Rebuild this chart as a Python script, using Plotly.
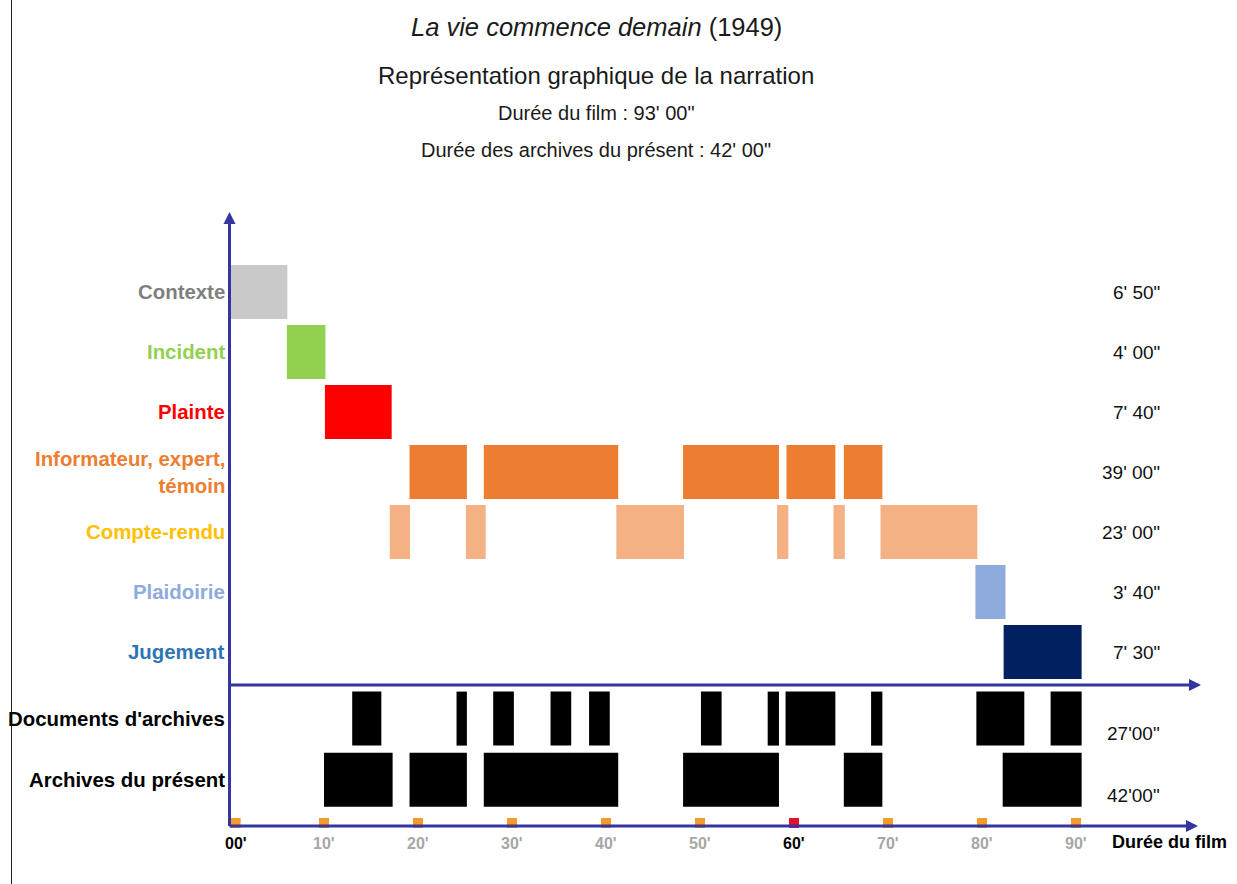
import plotly.graph_objects as go

W, H = 1237, 884

# ---------------- data (minutes of the film) ----------------
categories = ["Contexte", "Incident", "Plainte", "Informateur, expert,<br>témoin",
              "Compte-rendu", "Plaidoirie", "Jugement",
              "Documents d'archives", "Archives du présent"]
durations = ["6' 50\"", "4' 00\"", "7' 40\"", "39' 00\"", "23' 00\"",
             "3' 40\"", "7' 30\"", "27'00\"", "42'00\""]

contexte_start = [0.0]
contexte_end = [6.1]
incident_start = [6.05]
incident_end = [10.15]
plainte_start = [10.1]
plainte_end = [17.2]
informateur_start = [19.1, 27.0, 48.2, 59.2, 65.3]
informateur_end = [25.2, 41.3, 58.4, 64.4, 69.4]
compte_rendu_start = [17.0, 25.1, 41.1, 58.2, 64.2, 69.2]
compte_rendu_end = [19.15, 27.2, 48.3, 59.4, 65.4, 79.5]
plaidoirie_start = [79.3]
plaidoirie_end = [82.5]
jugement_start = [82.3]
jugement_end = [90.6]
documents_start = [13.0, 24.1, 28.0, 34.1, 38.2, 50.1, 57.2, 59.1, 68.2, 79.4, 87.3]
documents_end = [16.1, 25.2, 30.2, 36.3, 40.4, 52.3, 58.4, 64.4, 69.4, 84.5, 90.6]
archives_start = [10.0, 19.1, 27.0, 48.2, 65.3, 82.2]
archives_end = [17.3, 25.2, 41.3, 58.4, 69.4, 90.6]

tick_minutes = [0, 10, 20, 30, 40, 50, 60, 70, 80, 90]
tick_labels = ["00'", "10'", "20'", "30'", "40'", "50'", "60'", "70'", "80'", "90'"]

title_lines = ["<i>La vie commence demain</i> (1949)",
               "Représentation graphique de la narration",
               "Durée du film : 93' 00\"",
               "Durée des archives du présent : 42' 00\""]
x_axis_title = "Durée du film"

# ---------------- styling / layout ----------------
bar_colors = ["#C9C9C9", "#92D050", "#FF0000", "#ED7D31", "#F4B183",
              "#8FAADC", "#002060", "#000000", "#000000"]
label_colors = ["#7F7F7F", "#92D050", "#FF0000", "#ED7D31", "#FFC000",
                "#8FAADC", "#2E75B6", "#000000", "#000000"]
row_y = [0, 1, 2, 3, 4, 5, 6, 7.11, 8.13]
bar_width = 0.9
AXIS = "#3535A0"
FONT = "Liberation Sans, Arial, sans-serif"

X0, SX = 230.0, 9.4   # pixel of minute 0, pixels per minute
Y0, SY = 292.0, 60.0  # pixel of row 0, pixels per row


def xm(px):
    return (px - X0) / SX


def yr(py):
    return (py - Y0) / SY


segments = [
    (contexte_start, contexte_end), (incident_start, incident_end),
    (plainte_start, plainte_end), (informateur_start, informateur_end),
    (compte_rendu_start, compte_rendu_end), (plaidoirie_start, plaidoirie_end),
    (jugement_start, jugement_end), (documents_start, documents_end),
    (archives_start, archives_end),
]

fig = go.Figure()
for i, (starts, ends) in enumerate(segments):
    fig.add_trace(go.Bar(
        orientation="h",
        y=[row_y[i]] * len(starts),
        base=starts,
        x=[e - s for s, e in zip(starts, ends)],
        width=bar_width,
        marker=dict(color=bar_colors[i], line=dict(width=0)),
        name=categories[i].replace("<br>", " "),
        showlegend=False,
        hoverinfo="skip",
    ))

# tick markers on the bottom axis
marker_colors = ["#E8112D" if t == 60 else "#F39A2B" for t in tick_minutes]
fig.add_trace(go.Scatter(
    x=[t + (0.6 if t == 0 else 0) for t in tick_minutes],
    y=[yr(823)] * len(tick_minutes),
    mode="markers",
    marker=dict(symbol="square", size=10, color=marker_colors, line=dict(width=0)),
    showlegend=False, hoverinfo="skip",
))

annotations = []
# left category labels
for i, cat in enumerate(categories):
    annotations.append(dict(
        x=xm(227), y=row_y[i], xref="x", yref="y", text="<b>%s</b>" % cat,
        showarrow=False, xanchor="right", yanchor="middle", align="right",
        font=dict(family=FONT, size=20.4, color=label_colors[i]),
    ))
# right duration labels
right_y = [row_y[0], row_y[1], row_y[2], row_y[3], row_y[4], row_y[5], row_y[6],
           yr(733), yr(795)]
for i, d in enumerate(durations):
    annotations.append(dict(
        x=xm(1162), y=right_y[i], xref="x", yref="y", text=d,
        showarrow=False, xanchor="right", yanchor="middle",
        font=dict(family=FONT, size=19, color="#111111"),
    ))
# tick labels
for t, lab in zip(tick_minutes, tick_labels):
    strong = t in (0, 60)
    annotations.append(dict(
        x=t + (0.6 if t == 0 else 0), y=yr(843), xref="x", yref="y",
        text="<b>%s</b>" % lab, showarrow=False,
        xanchor="center", yanchor="middle",
        font=dict(family=FONT, size=16, color="#000000" if strong else "#A6A6A6"),
    ))
annotations.append(dict(
    x=xm(1110), y=yr(842), xref="x", yref="y", text="<b>%s</b>" % x_axis_title,
    showarrow=False, xanchor="left", yanchor="middle",
    font=dict(family=FONT, size=18, color="#000000"),
))
# titles
title_y = [27, 75, 113, 150]
title_size = [25.5, 24, 20, 20]
for txt, py, fs in zip(title_lines, title_y, title_size):
    annotations.append(dict(
        x=596 / W, y=1 - py / H, xref="paper", yref="paper", text=txt,
        showarrow=False, xanchor="center", yanchor="middle",
        font=dict(family=FONT, size=fs, color="#1A1A1A"),
    ))
# axes as arrows
arrow_common = dict(xref="x", yref="y", axref="x", ayref="y", text="",
                    showarrow=True, arrowhead=2, arrowsize=0.8, arrowwidth=3,
                    arrowcolor=AXIS, standoff=0, startstandoff=0)
annotations.append(dict(x=xm(229.5), y=yr(212), ax=xm(229.5), ay=yr(827.5), **arrow_common))
annotations.append(dict(x=xm(1201), y=yr(685), ax=xm(228), ay=yr(685), **arrow_common))
annotations.append(dict(x=xm(1198), y=yr(826), ax=xm(228), ay=yr(826), **arrow_common))

shapes = [dict(type="line", xref="paper", yref="paper",
               x0=11.5 / W, x1=11.5 / W, y0=0, y1=1,
               line=dict(color="#222222", width=1))]

fig.update_layout(
    width=W, height=H,
    margin=dict(l=0, r=0, t=0, b=0),
    paper_bgcolor="white", plot_bgcolor="white",
    barmode="overlay",
    xaxis=dict(range=[xm(0), xm(W)], visible=False, fixedrange=True),
    yaxis=dict(range=[yr(H), yr(0)], visible=False, fixedrange=True),
    annotations=annotations,
    shapes=shapes,
    font=dict(family=FONT),
)

fig.write_html("out.html", config={"displayModeBar": False},
               post_script="document.body.style.margin='0';document.body.style.overflow='hidden';")
